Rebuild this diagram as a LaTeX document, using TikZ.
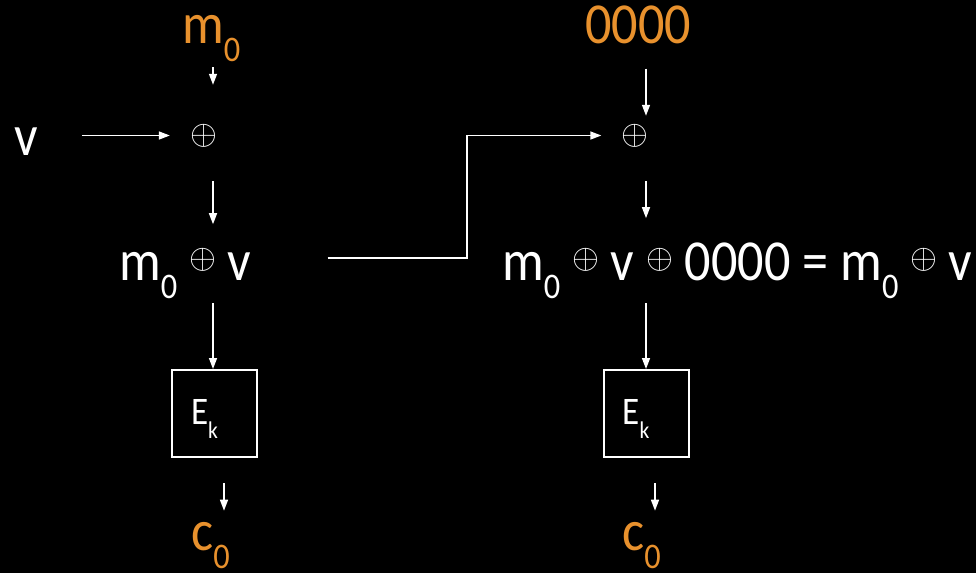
\documentclass[tikz,border=0pt]{standalone}
\usepackage{fontspec}
\setmainfont{Carlito}[FakeStretch=0.9]
\usetikzlibrary{calc}
\usetikzlibrary{positioning}
\usetikzlibrary{arrows.meta}

\definecolor{keyorange}{RGB}{232,145,45}

\newcommand{\lsub}[1]{\raisebox{-18pt}{\fontsize{36}{36}\selectfont #1}}
\newcommand{\xorsym}{\scalebox{1.39}{\fontsize{24.88}{26}\selectfont$\oplus$}}
\newcommand{\ixor}{\raisebox{11.4pt}{\xorsym}}
\newcommand{\ek}{{\fontsize{39}{40}\selectfont\rule{0pt}{36pt}E\raisebox{-14pt}{\fontsize{24}{24}\selectfont k}\kern20pt}}

\begin{document}
\begin{tikzpicture}[%
  x=1pt, y=-1pt,
  >={Triangle[length=11pt,width=8pt]},
  every node/.style={inner sep=0pt, text=white, font=\fontsize{58}{62}\selectfont},
  arr/.style={->, white, line width=1.5pt},
  keytxt/.style={text=keyorange},
  blockbox/.style={draw=white, line width=2pt, minimum width=85pt, minimum height=87pt}
]

  \useasboundingbox (0,0) rectangle (976,573);
  \fill[black] (0,0) rectangle (976,573);

  \coordinate (colL) at (213,0);
  \coordinate (colLb) at (224,0);
  \coordinate (colR) at (646,0);
  \coordinate (colRb) at (655,0);
  \coordinate (bend) at (467,258);

  % left chain
  \node[keytxt, anchor=base west] (mL) at (182,43) {m\lsub{0}};
  \node[anchor=base west] (v) at (14,155) {v};
  \node (xorL) at (203.5,135.5) {\xorsym};
  \node[anchor=base west] (sumL) at (119,280) {m\lsub{0} \ixor{} v};
  \node[blockbox] (boxL) at (214.5,413.5) {\ek};
  \node[keytxt, anchor=base west] (cL) at (191,550) {c\lsub{0}};

  % right chain
  \node[keytxt, anchor=base west] (zeros) at (585,43) {0000};
  \node (xorR) at (635,135.5) {\xorsym};
  \node[anchor=base west] (sumR) at (502,280) {m\lsub{0} \ixor{} v \ixor{} 0000 = m\lsub{0} \ixor{} v};
  \node[blockbox] (boxR) at (646,413.5) {\ek};
  \node[keytxt, anchor=base west] (cR) at (622,550) {c\lsub{0}};

  \draw[arr, shorten <=6pt, shorten >=39pt] (mL.south -| colL) -- (xorL.north -| colL);
  \draw[arr, shorten <=44pt, shorten >=20pt] (v.east |- xorL.center) -- (xorL.west);
  \draw[arr, shorten <=34pt, shorten >=24pt] (xorL.south -| colL) -- (sumL.north -| colL);
  \draw[arr, shorten <=5pt] (sumL.south -| colL) -- (boxL.north -| colL);
  \draw[arr, shorten <=25pt, shorten >=11pt] (boxL.south -| colLb) -- (cL.north -| colLb);

  \draw[arr, shorten <=25pt, shorten >=8pt] (zeros.south -| colR) -- (xorR.north -| colR);
  \draw[arr, shorten <=76pt, shorten >=20pt] (sumL.east |- bend) -- (bend) |- (xorR.west);
  \draw[arr, shorten <=34pt, shorten >=24pt] (xorR.south -| colR) -- (sumR.north -| colR);
  \draw[arr, shorten <=5pt] (sumR.south -| colR) -- (boxR.north -| colR);
  \draw[arr, shorten <=25pt, shorten >=11pt] (boxR.south -| colRb) -- (cR.north -| colRb);

\end{tikzpicture}
\end{document}
